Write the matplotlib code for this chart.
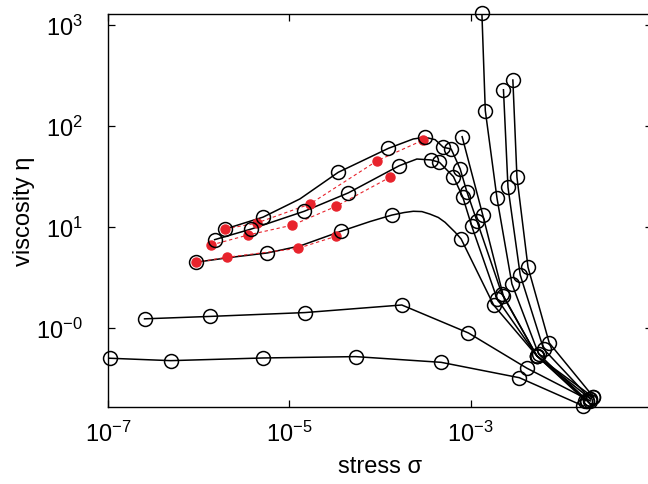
import numpy as np
import matplotlib.pyplot as plt
from matplotlib import font_manager
from matplotlib.ticker import NullLocator

names = {f.name for f in font_manager.fontManager.ttflist}
fam = 'Liberation Sans Narrow' if 'Liberation Sans Narrow' in names else 'Liberation Sans'
plt.rcParams['font.family'] = [fam, 'DejaVu Sans']
plt.rcParams['mathtext.default'] = 'regular'

# black series (open circles)
a_x = [1.04e-7, 4.91e-7, 5.13e-6, 5.38e-5, 4.72e-4, 3.44e-3, 1.75e-2]
a_y = [0.505, 0.478, 0.508, 0.524, 0.460, 0.324, 0.170]

b_x = [2.53e-7, 1.33e-6, 1.48e-5, 1.74e-4, 9.46e-4, 4.18e-3, 2.09e-2]
b_y = [1.24, 1.31, 1.43, 1.70, 0.898, 0.402, 0.191]

c_x = [9.27e-7, 5.74e-6, 3.71e-5, 1.35e-4, 7.85e-4, 1.79e-3, 5.38e-3, 1.94e-2]
c_y = [4.50, 5.57, 9.13, 13.2, 7.66, 1.70, 0.532, 0.191]
c_line_x = [9.27e-7, 2.20e-6, 5.74e-6, 1.31e-5, 3.71e-5, 7.77e-5, 1.35e-4, 1.85e-4, 2.33e-4,
            2.90e-4, 3.56e-4, 4.40e-4, 5.22e-4, 6.75e-4, 7.85e-4, 1.79e-3, 5.38e-3, 1.94e-2]
c_line_y = [4.50, 5.02, 5.57, 6.53, 9.13, 11.4, 13.2, 14.0, 14.4,
            14.3, 13.5, 12.5, 11.2, 8.92, 7.66, 1.70, 0.532, 0.191]

d_x = [1.50e-6, 3.82e-6, 1.46e-5, 4.47e-5, 1.63e-4, 3.66e-4, 4.52e-4, 6.46e-4,
       8.20e-4, 1.03e-3, 1.96e-3, 5.38e-3, 1.84e-2]
d_y = [7.54, 9.62, 14.4, 21.9, 40.7, 46.4, 44.0, 31.7, 19.8, 10.2, 1.95, 0.532, 0.192]
d_line_x = [1.50e-6, 3.82e-6, 1.46e-5, 4.47e-5, 1.63e-4, 2.55e-4, 3.66e-4, 4.52e-4,
            6.46e-4, 8.20e-4, 1.03e-3, 1.96e-3, 5.38e-3, 1.84e-2]
d_line_y = [7.54, 9.62, 14.4, 21.9, 40.7, 47.4, 46.4, 44.0, 31.7, 19.8, 10.2, 1.95, 0.532, 0.192]

e_x = [1.97e-6, 5.13e-6, 3.46e-5, 1.24e-4, 3.14e-4, 5.00e-4, 6.09e-4, 7.66e-4,
       9.08e-4, 1.17e-3, 2.21e-3, 5.38e-3, 2.26e-2]
e_y = [9.62, 12.6, 35.0, 60.5, 77.8, 61.9, 59.6, 37.8, 22.5, 11.6, 2.19, 0.532, 0.207]
e_line_x = [1.97e-6, 5.13e-6, 1.31e-5, 3.46e-5, 1.24e-4, 2.33e-4, 3.14e-4, 4.06e-4,
            5.00e-4, 6.09e-4, 7.66e-4, 9.08e-4, 1.17e-3, 2.21e-3, 5.38e-3, 2.26e-2]
e_line_y = [9.62, 12.6, 19.1, 35.0, 60.5, 74.9, 77.8, 73.7,
            61.9, 59.6, 37.8, 22.5, 11.6, 2.19, 0.532, 0.207]

s1_x = [8.05e-4, 1.36e-3, 2.29e-3, 5.38e-3, 2.09e-2]
s1_y = [78.9, 13.2, 2.10, 0.532, 0.200]
s2_x = [1.33e-3, 1.45e-3, 1.95e-3, 2.85e-3, 5.61e-3, 1.94e-2]
s2_y = [1315, 143, 19.5, 2.75, 0.557, 0.191]
s3_x = [2.30e-3, 2.58e-3, 3.52e-3, 6.37e-3, 2.09e-2]
s3_y = [230, 24.9, 3.37, 0.624, 0.200]
s4_x = [2.92e-3, 3.24e-3, 4.29e-3, 7.36e-3, 2.26e-2]
s4_y = [287, 31.3, 4.02, 0.715, 0.209]

# red series (filled dots, dashed)
r1_x = [9.27e-7, 2.06e-6, 1.25e-5, 3.27e-5]
r1_y = [4.50, 5.05, 6.19, 8.15]
r2_x = [1.38e-6, 3.51e-6, 1.08e-5, 3.27e-5, 1.29e-4]
r2_y = [6.68, 8.39, 10.5, 16.1, 31.3]
r3_x = [1.97e-6, 4.35e-6, 1.69e-5, 9.33e-5, 3.01e-4]
r3_y = [9.62, 11.0, 17.0, 45.6, 73.2]

red = '#e8232c'

fig = plt.figure(figsize=(6.48, 4.85), dpi=100)
ax = fig.add_axes([108 / 648, 76.7 / 485, 544 / 648, 393.6 / 485])
ax.set_xscale('log')
ax.set_yscale('log')

# lines first
for lx, ly in [(a_x, a_y), (b_x, b_y), (c_line_x, c_line_y), (d_line_x, d_line_y),
               (e_line_x, e_line_y), (s1_x, s1_y), (s2_x, s2_y), (s3_x, s3_y), (s4_x, s4_y)]:
    ax.plot(lx, ly, color='k', lw=1.1, zorder=2)

for rx, ry in [(r1_x, r1_y), (r2_x, r2_y), (r3_x, r3_y)]:
    ax.plot(rx, ry, color=red, lw=0.8, ls=(0, (3, 2.5)), marker='o', ms=6.5,
            mec=red, mfc=red, zorder=3)

for mx, my in [(a_x, a_y), (b_x, b_y), (c_x, c_y), (d_x, d_y), (e_x, e_y),
               (s1_x, s1_y), (s2_x, s2_y), (s3_x, s3_y), (s4_x, s4_y)]:
    ax.plot(mx, my, ls='none', marker='o', ms=10, mfc='none', mec='k', mew=1.1,
            zorder=4, clip_on=False)

ax.set_xlim(1e-7, 0.1)
ax.set_ylim(0.165, 1302)

ax.set_xticks([1e-7, 1e-5, 1e-3])
ax.set_xticklabels([r'$10^{-7}$', r'$10^{-5}$', r'$10^{-3}$'])
ax.set_yticks([1, 10, 100, 1000])
ax.set_yticklabels([r'$10^{-0}$', r'$10^{1}$', r'$10^{2}$', r'$10^{3}$'])
ax.xaxis.set_minor_locator(NullLocator())
ax.yaxis.set_minor_locator(NullLocator())
ax.tick_params(direction='in', top=True, right=True, length=5, width=0.9,
               labelsize=17)
ax.tick_params(axis='y', pad=18)
ax.tick_params(axis='x', pad=10)
for s in ax.spines.values():
    s.set_linewidth(1.0)

ax.set_xlabel('stress σ', fontsize=17, labelpad=6)
ax.set_ylabel('viscosity η', fontsize=17, labelpad=1)

fig.savefig('out.png', dpi=100)
